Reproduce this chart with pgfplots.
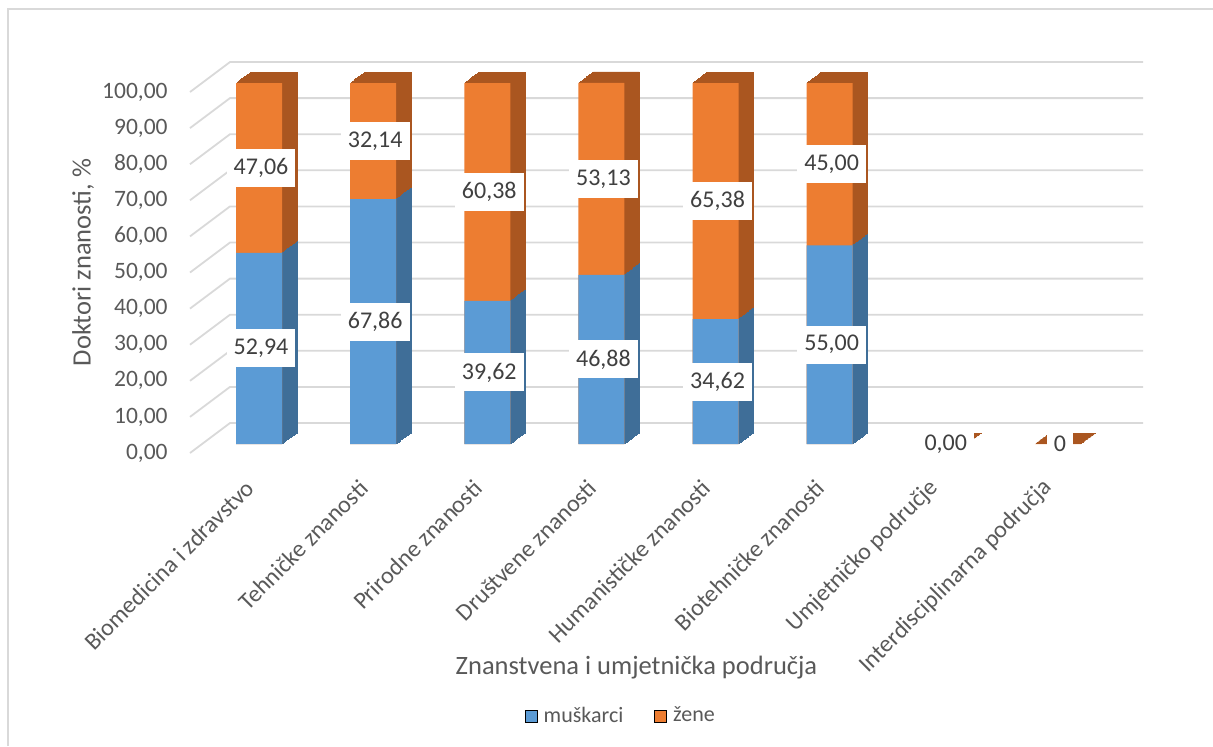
\documentclass[border=0pt]{standalone}
\usepackage{pgfplots}
\pgfplotsset{compat=1.18}
\usepackage{pgfplotstable}
\usepackage{fontspec}
\setmainfont{Carlito}

\definecolor{blue1}{HTML}{5B9BD5}
\definecolor{blue2}{HTML}{3F6E98}
\definecolor{orange1}{HTML}{ED7D31}
\definecolor{orange2}{HTML}{AA5620}
\definecolor{gridc}{HTML}{D9D9D9}
\definecolor{txt}{HTML}{595959}
\definecolor{lbltxt}{HTML}{404040}

\tikzset{lbl/.style={fill=white, anchor=center, font=\fontsize{12}{12}\selectfont,
    text=lbltxt, inner xsep=3.5pt, inner ysep=0pt, minimum height=19pt,
    xshift=7pt, yshift=4.5pt}}

% muskarci / zene, %
\pgfplotstableread{
x m z mlab zlab
0 52.94 47.06 52,94 47,06
1 67.86 32.14 67,86 32,14
2 39.62 60.38 39,62 60,38
3 46.88 53.13 46,88 53,13
4 34.62 65.38 34,62 65,38
5 55.00 45.00 55,00 45,00
6 0 0 0,00 0,00
7 0 0 0 0
}\data

\begin{document}
\begin{tikzpicture}
\useasboundingbox (0,0) rectangle (606.5pt,373pt);
\draw[gridc, line width=0.75pt] (4pt,0) -- (4pt,368.5pt) -- (606.5pt,368.5pt);
\begin{axis}[
  at={(95pt,146.5pt)}, anchor=south west,
  scale only axis, width=456.5pt, height=180.5pt,
  xmin=-0.5, xmax=7.5, ymin=0, ymax=100,
  clip=false,
  axis line style={draw=none},
  tick style={draw=none},
  xtick={0,...,7},
  xticklabels={Biomedicina i zdravstvo, Tehničke znanosti, Prirodne znanosti,
    Društvene znanosti, Humanističke znanosti, Biotehničke znanosti,
    Umjetničko područje, Interdisciplinarna područja},
  ytick={0,10,...,100},
  /pgf/number format/fixed, /pgf/number format/fixed zerofill,
  /pgf/number format/precision=2, /pgf/number format/use comma,
  /pgf/number format/1000 sep={}, /pgf/number format/assume math mode=true,
  yticklabel style={font=\fontsize{11.75}{12}\selectfont, text=txt,
    anchor=east, inner sep=0pt, xshift=-11pt},
  xticklabel style={font=\fontsize{12}{12}\selectfont, text=txt,
    inner sep=0pt, anchor=east, xshift=1.5pt, yshift=-15.5pt, rotate=45},
  every axis y label/.style={at={(axis description cs:0,0.5)}, xshift=-53.5pt,
    yshift=5pt, rotate=90, anchor=center,
    font=\fontsize{13.25}{14}\selectfont, text=txt},
  every axis x label/.style={at={(axis description cs:0.5,0)}, xshift=-5pt,
    yshift=-107.5pt, anchor=center,
    font=\fontsize{13.25}{14}\selectfont, text=txt},
  ylabel={Doktori znanosti, \%},
  xlabel={Znanstvena i umjetnička područja},
  legend image code/.code={\fill[#1] (0pt,-3pt) rectangle (6pt,3pt);
    \path (7pt,0pt);},
  legend style={at={(0.473,-0.7285)}, anchor=center, draw=none,
    font=\fontsize{11}{12}\selectfont, text=txt,
    /tikz/every even column/.append style={column sep=13.5pt}},
  legend columns=2,
  bars/.style={ybar, bar width=0.403, bar shift=0pt, forget plot},
]
% back wall grid
\pgfplotsinvokeforeach{0,10,...,100}{
  \draw[gridc, line width=0.9pt] (axis cs:-0.5,#1) -- ++(20pt,15pt)
    -- ([xshift=20pt,yshift=15pt]axis cs:7.5,#1);
}
% depth of the bars
\pgfplotsinvokeforeach{16,15,...,1}{
  \addplot[bars, fill=orange2, draw=orange2, line width=0.4pt,
    xshift={6pt+#1*7.5pt/16}, yshift={4.5pt+#1*5.5pt/16}]
    table[x=x, y expr=\thisrow{m}+\thisrow{z}] {\data};
  \addplot[bars, fill=blue2, draw=blue2, line width=0.4pt,
    skip coords between index={6}{8},
    xshift={6pt+#1*7.5pt/16}, yshift={4.5pt+#1*5.5pt/16}]
    table[x=x, y=m] {\data};
}
% front faces
\addplot[bars, fill=orange1, draw=none, xshift=6pt, yshift=4.5pt]
  table[x=x, y expr=\thisrow{m}+\thisrow{z}] {\data};
\addplot[bars, fill=blue1, draw=none, xshift=6pt, yshift=4.5pt,
  skip coords between index={6}{8}]
  table[x=x, y=m] {\data};
% data labels
\addplot[draw=none, mark=none, forget plot, point meta=explicit symbolic,
  nodes near coords, nodes near coords style={lbl}]
  table[x=x, y expr=\thisrow{m}/2, meta=mlab] {\data};
\addplot[draw=none, mark=none, forget plot, point meta=explicit symbolic,
  nodes near coords, nodes near coords style={lbl},
  skip coords between index={6}{8}]
  table[x=x, y expr=\thisrow{m}+\thisrow{z}/2, meta=zlab] {\data};
\addlegendimage{fill=blue1}
\addlegendentry{muškarci}
\addlegendimage{fill=orange1}
\addlegendentry{žene}
\end{axis}
\end{tikzpicture}
\end{document}
